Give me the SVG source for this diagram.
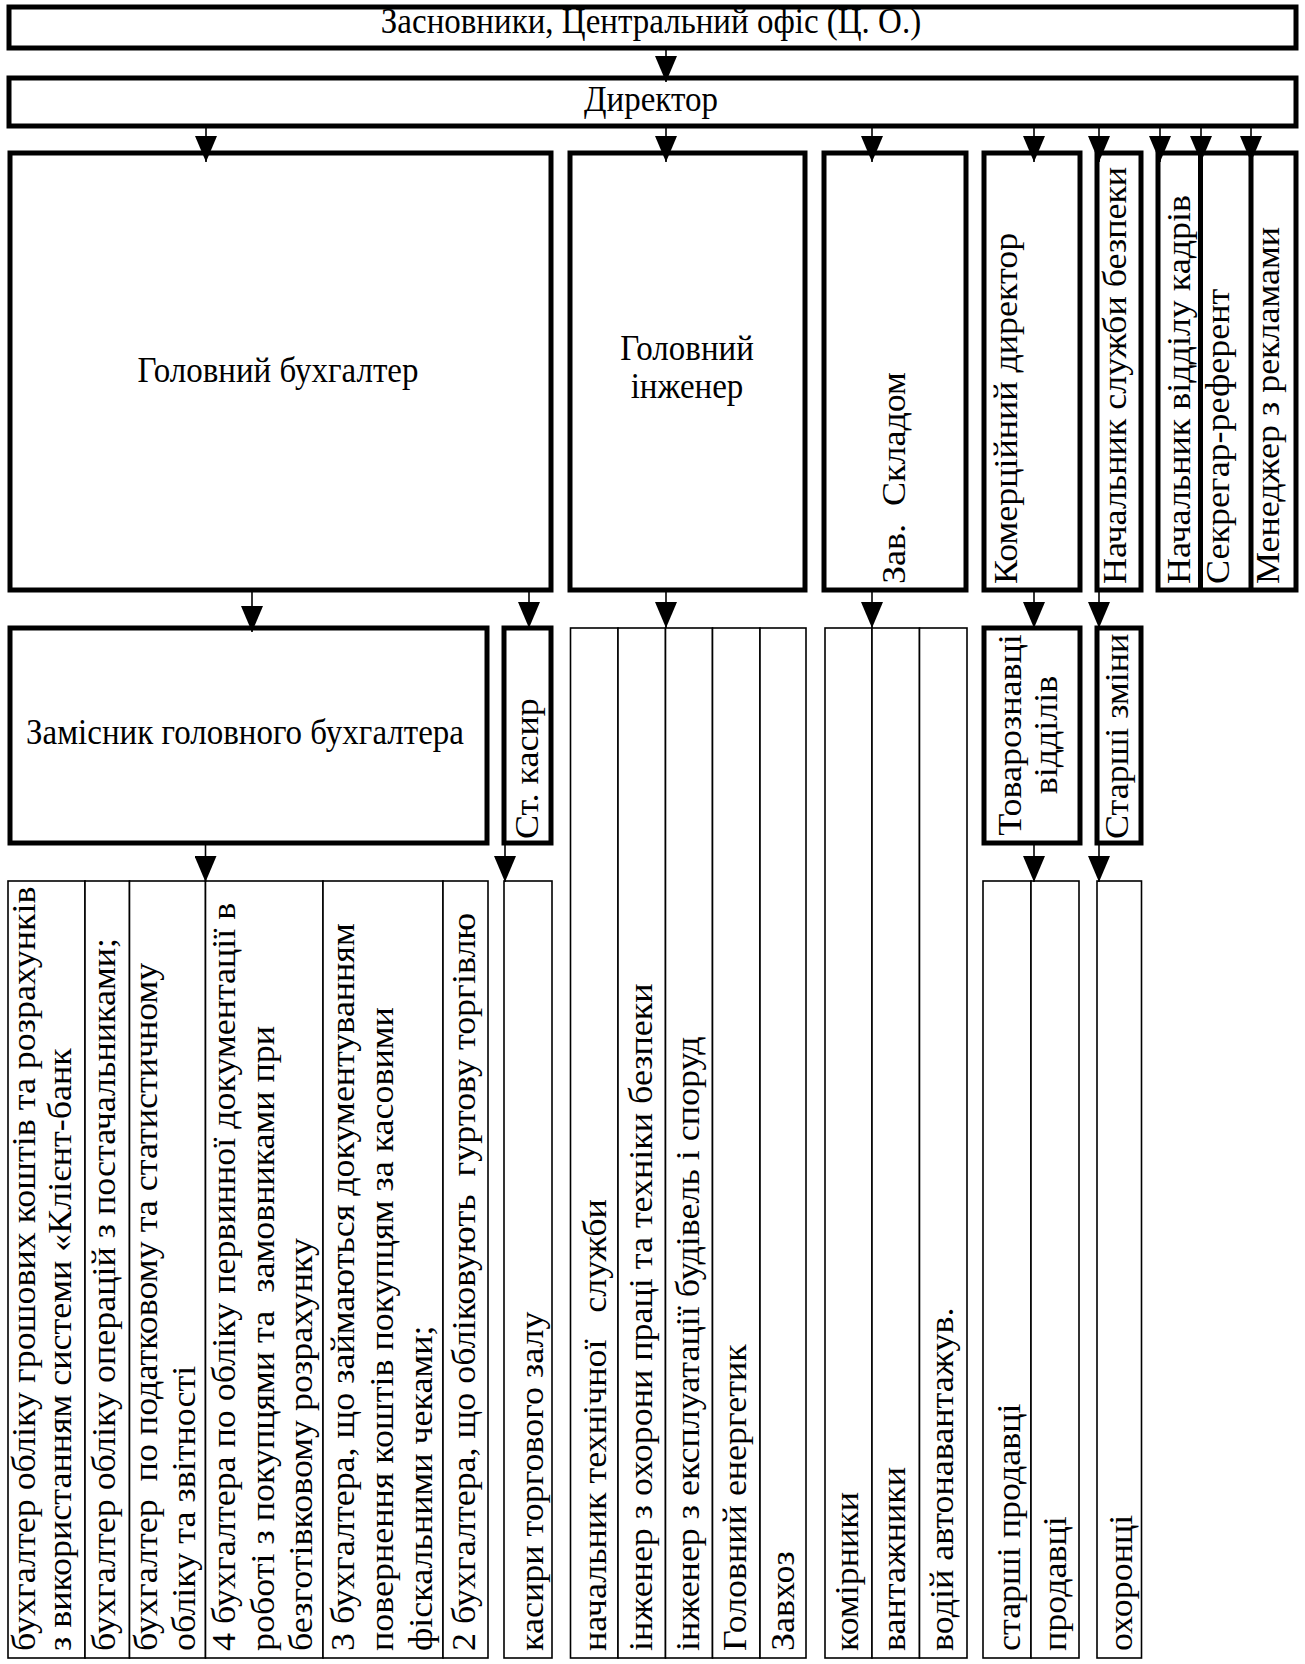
<svg xmlns="http://www.w3.org/2000/svg" width="1305" height="1664" viewBox="0 0 1305 1664">
<defs>
<style>
.box{fill:#fff;stroke:#000;stroke-width:5}
.cell{fill:#fff;stroke:#000;stroke-width:1.6}
.div{stroke:#000;stroke-width:5}
.conn{stroke:#000;stroke-width:1.6;fill:none}
text{font-family:"Liberation Serif","Times New Roman",serif;fill:#000}
.h{font-size:33px;text-anchor:middle}
.v{font-size:36px}
.vm{font-size:36px;text-anchor:middle}
</style>
<marker id="ah" markerUnits="userSpaceOnUse" viewBox="0 0 26 22" markerWidth="26" markerHeight="22" refX="26" refY="11" orient="auto">
<path d="M0,0 L26,11 L0,22 Z" fill="#000"/>
</marker>
</defs>
<rect width="1305" height="1664" fill="#fff"/>

<g id="founders">
<rect class="box" x="9" y="7" width="1287" height="41"/>
<text class="h" transform="translate(651,33) scale(1,1.1)">Засновники, Центральний офіс (Ц. О.)</text>
</g>
<g id="director">
<rect class="box" x="9" y="78" width="1287" height="48"/>
<text class="h" transform="translate(651,111) scale(1,1.1)">Директор</text>
</g>

<g id="chief-accountant">
<rect class="box" x="10" y="153" width="541" height="437"/>
<text class="h" transform="translate(278,382) scale(1,1.1)">Головний бухгалтер</text>
</g>
<g id="chief-engineer">
<rect class="box" x="570" y="153" width="235" height="437"/>
<text class="h" transform="translate(687,360) scale(1,1.1)">Головний</text>
<text class="h" transform="translate(687,398) scale(1,1.1)">інженер</text>
</g>
<g id="warehouse-head">
<rect class="box" x="824" y="153" width="142" height="437"/>
<text class="v" xml:space="preserve" transform="translate(905,584) rotate(-90) scale(1,0.92)">Зав.  Складом</text>
</g>
<g id="commercial-director">
<rect class="box" x="984" y="153" width="96" height="437"/>
<text class="v" transform="translate(1017,584) rotate(-90) scale(1,0.92)">Комерційний директор</text>
</g>
<g id="security-head">
<rect class="box" x="1097" y="153" width="44" height="437"/>
<text class="v" transform="translate(1126,584) rotate(-90) scale(1,0.92)">Начальник служби безпеки</text>
</g>
<g id="staff-group">
<rect class="box" x="1158" y="153" width="138" height="437"/>
<line class="div" x1="1200.5" y1="153" x2="1200.5" y2="590"/>
<line class="div" x1="1251" y1="153" x2="1251" y2="590"/>
</g>
<g id="hr-head">
<text class="v" transform="translate(1190,584) rotate(-90) scale(1,0.92)">Начальник відділу кадрів</text>
</g>
<g id="secretary">
<text class="v" transform="translate(1229,584) rotate(-90) scale(1,0.92)">Секрегар-референт</text>
</g>
<g id="ad-manager">
<text class="v" transform="translate(1279,584) rotate(-90) scale(1,0.92)">Менеджер з рекламами</text>
</g>

<g id="deputy-accountant">
<rect class="box" x="10" y="628" width="477" height="215"/>
<text class="h" transform="translate(245,744) scale(1,1.1)">Замісник головного бухгалтера</text>
</g>
<g id="senior-cashier">
<rect class="box" x="504" y="628" width="47" height="215"/>
<text class="v" transform="translate(538,839) rotate(-90) scale(1,0.92)">Ст. касир</text>
</g>
<g id="merchandisers">
<rect class="box" x="984" y="628" width="96" height="215"/>
<text class="vm" transform="translate(1021,735) rotate(-90) scale(1,0.92)">Товарознавці</text>
<text class="vm" transform="translate(1057,735) rotate(-90) scale(1,0.92)">відділів</text>
</g>
<g id="shift-seniors">
<rect class="box" x="1097" y="628" width="44" height="215"/>
<text class="v" transform="translate(1128,839) rotate(-90) scale(1,0.92)">Старші зміни</text>
</g>

<g id="acc-1">
<rect class="cell" x="8" y="881" width="77" height="777"/>
<text class="v" transform="translate(35,1651) rotate(-90) scale(1,0.92)">бухгалтер обліку грошових коштів та розрахунків</text>
<text class="v" transform="translate(71,1651) rotate(-90) scale(1,0.92)">з використанням системи «Клієнт-банк</text>
</g>
<g id="acc-2">
<rect class="cell" x="85" y="881" width="44.5" height="777"/>
<text class="v" transform="translate(115,1651) rotate(-90) scale(1,0.92)">бухгалтер обліку операцій з постачальниками;</text>
</g>
<g id="acc-3">
<rect class="cell" x="129.5" y="881" width="76" height="777"/>
<text class="v" xml:space="preserve" transform="translate(157,1651) rotate(-90) scale(1,0.92)">бухгалтер  по податковому та статистичному</text>
<text class="v" transform="translate(195,1651) rotate(-90) scale(1,0.92)">обліку та звітності</text>
</g>
<g id="acc-4">
<rect class="cell" x="205.5" y="881" width="117.5" height="777"/>
<text class="v" transform="translate(235,1651) rotate(-90) scale(1,0.92)">4 бухгалтера по обліку первинної документації в</text>
<text class="v" xml:space="preserve" transform="translate(274,1651) rotate(-90) scale(1,0.92)">роботі з покупцями та  замовниками при</text>
<text class="v" transform="translate(312,1651) rotate(-90) scale(1,0.92)">безготівковому розрахунку</text>
</g>
<g id="acc-5">
<rect class="cell" x="323" y="881" width="120" height="777"/>
<text class="v" transform="translate(354,1651) rotate(-90) scale(1,0.92)">3 бухгалтера, що займаються документуванням</text>
<text class="v" transform="translate(393,1651) rotate(-90) scale(1,0.92)">повернення коштів покупцям за касовими</text>
<text class="v" transform="translate(432,1651) rotate(-90) scale(1,0.92)">фіскальними чеками;</text>
</g>
<g id="acc-6">
<rect class="cell" x="443" y="881" width="45" height="777"/>
<text class="v" xml:space="preserve" transform="translate(475,1651) rotate(-90) scale(1,0.92)">2 бухгалтера, що обліковують  гуртову торгівлю</text>
</g>
<g id="cashiers">
<rect class="cell" x="504" y="881" width="48" height="777"/>
<text class="v" transform="translate(543,1651) rotate(-90) scale(1,0.92)">касири торгового залу</text>
</g>

<g id="eng-1">
<rect class="cell" x="570.5" y="628" width="47.5" height="1030"/>
<text class="v" xml:space="preserve" transform="translate(606,1651) rotate(-90) scale(1,0.92)">начальник технічної   служби</text>
</g>
<g id="eng-2">
<rect class="cell" x="618" y="628" width="47.5" height="1030"/>
<text class="v" transform="translate(652,1651) rotate(-90) scale(1,0.92)">інженер з охорони праці та техніки безпеки</text>
</g>
<g id="eng-3">
<rect class="cell" x="665.5" y="628" width="47" height="1030"/>
<text class="v" transform="translate(699,1651) rotate(-90) scale(1,0.92)">інженер з експлуатації будівель і споруд</text>
</g>
<g id="eng-4">
<rect class="cell" x="712.5" y="628" width="47.5" height="1030"/>
<text class="v" transform="translate(746,1651) rotate(-90) scale(1,0.92)">Головний енергетик</text>
</g>
<g id="eng-5">
<rect class="cell" x="760" y="628" width="46" height="1030"/>
<text class="v" transform="translate(794,1651) rotate(-90) scale(1,0.92)">Завхоз</text>
</g>

<g id="wh-1">
<rect class="cell" x="825" y="628" width="47" height="1030"/>
<text class="v" transform="translate(858,1651) rotate(-90) scale(1,0.92)">комірники</text>
</g>
<g id="wh-2">
<rect class="cell" x="872" y="628" width="47.5" height="1030"/>
<text class="v" transform="translate(905,1651) rotate(-90) scale(1,0.92)">вантажники</text>
</g>
<g id="wh-3">
<rect class="cell" x="919.5" y="628" width="47.5" height="1030"/>
<text class="v" transform="translate(953,1651) rotate(-90) scale(1,0.92)">водій автонавантажув.</text>
</g>

<g id="sales-1">
<rect class="cell" x="983" y="881" width="48" height="777"/>
<text class="v" transform="translate(1020,1651) rotate(-90) scale(1,0.92)">старші продавці</text>
</g>
<g id="sales-2">
<rect class="cell" x="1031" y="881" width="48" height="777"/>
<text class="v" transform="translate(1066,1651) rotate(-90) scale(1,0.92)">продавці</text>
</g>
<g id="guards">
<rect class="cell" x="1097" y="881" width="44.5" height="777"/>
<text class="v" transform="translate(1132,1651) rotate(-90) scale(1,0.92)">охоронці</text>
</g>

<g id="connectors">
<line class="conn" x1="666" y1="50" x2="666" y2="82" marker-end="url(#ah)"/>
<line class="conn" x1="206" y1="128" x2="206" y2="162" marker-end="url(#ah)"/>
<line class="conn" x1="666" y1="128" x2="666" y2="162" marker-end="url(#ah)"/>
<line class="conn" x1="872" y1="128" x2="872" y2="162" marker-end="url(#ah)"/>
<line class="conn" x1="1034" y1="128" x2="1034" y2="162" marker-end="url(#ah)"/>
<line class="conn" x1="1099" y1="128" x2="1099" y2="162" marker-end="url(#ah)"/>
<line class="conn" x1="1160" y1="128" x2="1160" y2="162" marker-end="url(#ah)"/>
<line class="conn" x1="1201" y1="128" x2="1201" y2="162" marker-end="url(#ah)"/>
<line class="conn" x1="1251" y1="128" x2="1251" y2="162" marker-end="url(#ah)"/>
<line class="conn" x1="252" y1="592" x2="252" y2="632" marker-end="url(#ah)"/>
<line class="conn" x1="529" y1="592" x2="529" y2="628" marker-end="url(#ah)"/>
<line class="conn" x1="666" y1="592" x2="666" y2="628" marker-end="url(#ah)"/>
<line class="conn" x1="872" y1="592" x2="872" y2="628" marker-end="url(#ah)"/>
<line class="conn" x1="1034" y1="592" x2="1034" y2="628" marker-end="url(#ah)"/>
<line class="conn" x1="1099" y1="592" x2="1099" y2="628" marker-end="url(#ah)"/>
<line class="conn" x1="205.5" y1="845" x2="205.5" y2="882" marker-end="url(#ah)"/>
<line class="conn" x1="505" y1="845" x2="505" y2="882" marker-end="url(#ah)"/>
<line class="conn" x1="1034" y1="845" x2="1034" y2="882" marker-end="url(#ah)"/>
<line class="conn" x1="1099" y1="845" x2="1099" y2="882" marker-end="url(#ah)"/>
</g>
</svg>
